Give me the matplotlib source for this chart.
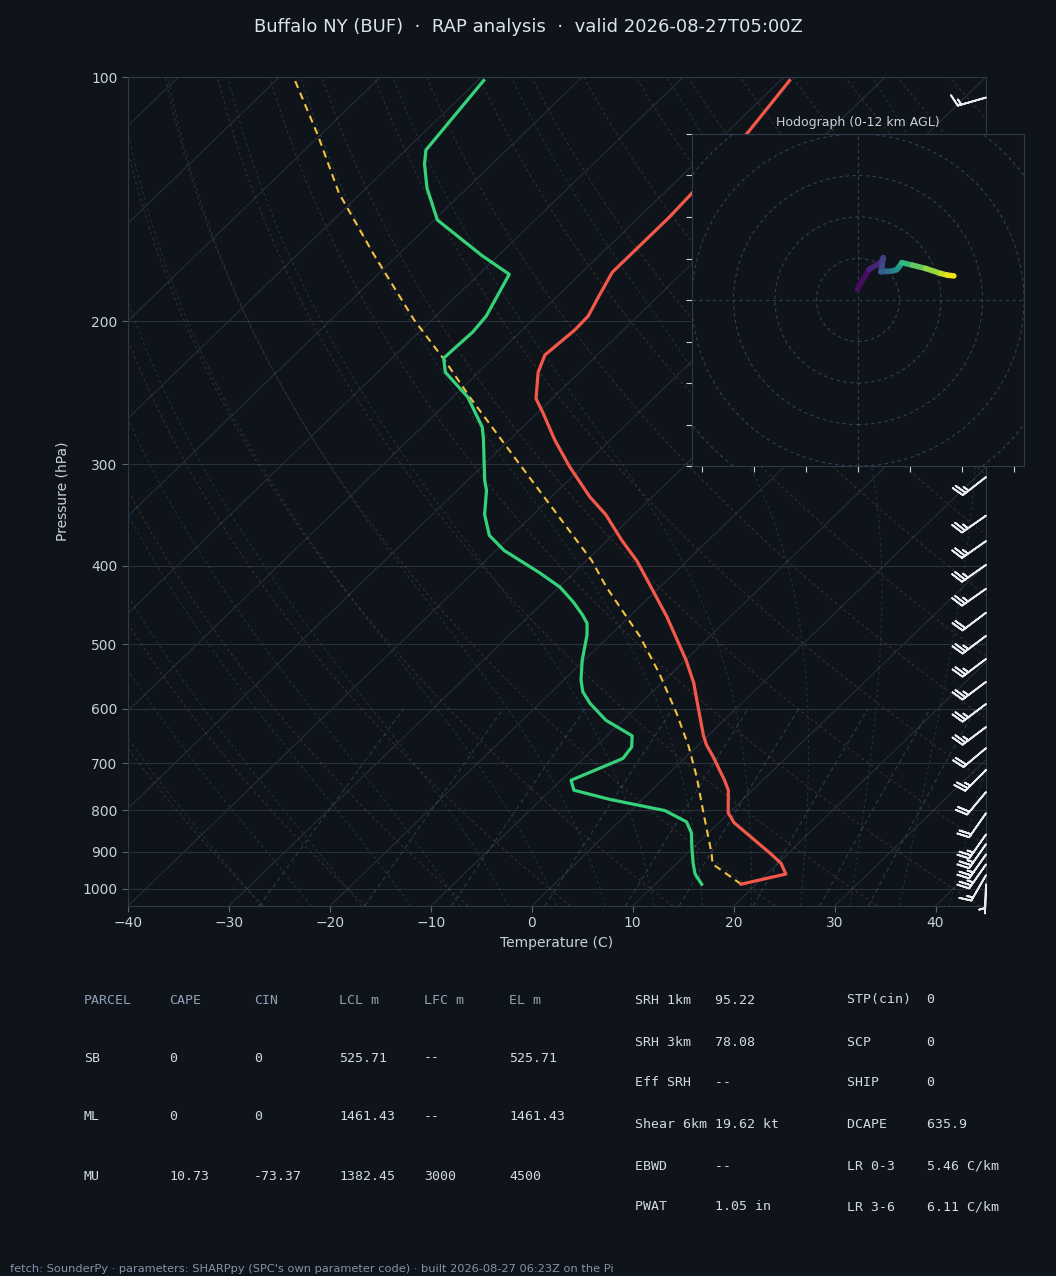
import numpy as np
import matplotlib.pyplot as plt
from matplotlib.collections import LineCollection
from matplotlib.colors import Normalize
from matplotlib.patches import Circle

# ===================== DATA =====================
station_title = "Buffalo NY (BUF)  \u00b7  RAP analysis  \u00b7  valid 2026-08-27T05:00Z"

# temperature profile (hPa, C)
temp_p = [987, 959, 930, 904, 854, 829, 806, 756, 735, 688, 665, 647, 585, 558, 523,
          462, 395, 372, 346, 329, 302, 280, 259, 249, 231, 220, 205, 197, 186, 174,
          161, 149, 140, 117, 101]
temp_c = [18.5, 21.9, 20.3, 18.2, 13.8, 11.5, 9.9, 7.6, 6.2, 2.7, 0.8, -0.5, -4.8, -6.8, -9.9,
          -16.3, -24.9, -28.6, -32.8, -36.2, -41.3, -45.5, -49.5, -51.6, -54.1, -55.2, -54.8,
          -54.9, -55.9, -57.0, -57.0, -57.0, -57.2, -57.9, -59.1]

# dewpoint profile (hPa, C)
dewp_p = [987, 959, 930, 888, 853, 827, 801, 776, 756, 735, 691, 669, 648, 620, 591, 572,
          553, 523, 487, 471, 460, 443, 425, 408, 383, 367, 346, 323, 314, 279, 270, 248,
          231, 222, 206, 197, 175, 166, 150, 137, 128, 123, 101]
dewp_c = [14.6, 12.9, 11.6, 9.8, 8.3, 6.7, 3.4, -3.2, -7.7, -9.0, -6.1, -6.4, -7.5, -11.7,
          -15.0, -16.9, -18.3, -20.2, -22.3, -23.5, -24.8, -27.1, -29.9, -33.4, -39.2, -42.2,
          -44.8, -47.1, -48.3, -52.7, -54.0, -58.5, -63.3, -64.9, -64.7, -65.0, -67.0, -71.6,
          -79.7, -84.0, -86.7, -88.0, -89.4]

# surface parcel path
parcel_p = [987, 932, 904, 807, 728, 668, 608, 543, 489, 425, 394, 298, 248, 224, 199,
            165, 139, 118, 101]
parcel_c = [18.5, 13.6, 12.4, 7.5, 3.1, -0.8, -5.4, -11.2, -16.9, -25.3, -29.5, -46.9,
            -58.3, -64.4, -71.8, -82.6, -92.2, -100.2, -108.1]

# wind barbs (hPa, direction deg, speed kt)
barb_p = [106, 150, 200, 250, 311, 347, 373, 399, 427, 457, 488, 521, 556, 592, 632, 671,
          714, 760, 807, 857, 881, 907, 933, 962, 987]
barb_dir = [254, 232, 235, 235, 232, 235, 235, 235, 235, 233, 233, 233, 233, 233, 233, 230,
            225, 220, 215, 215, 215, 215, 215, 210, 182]
barb_spd = [15, 25, 25, 25, 25, 25, 25, 25, 25, 20, 25, 25, 25, 25, 25, 20,
            25, 20, 20, 25, 25, 25, 25, 15, 3]

# hodograph (kt) coloured by height (km AGL)
hodo_u = [-0.2, 2.7, 5.5, 6.1, 5.8, 5.5, 7.0, 8.3, 9.3, 9.9, 10.6, 13.1, 16.3, 19.9, 21.5, 23.1]
hodo_v = [2.6, 7.4, 9.0, 10.2, 8.2, 6.8, 6.9, 7.0, 7.3, 8.0, 9.0, 8.4, 7.6, 6.4, 6.0, 5.8]
hodo_h = [0.0, 0.8, 1.5, 2.0, 2.6, 3.0, 3.8, 4.8, 5.6, 6.2, 7.4, 8.6, 9.5, 10.6, 11.3, 12.0]

parcel_cols = ["PARCEL", "CAPE", "CIN", "LCL m", "LFC m", "EL m"]
parcel_rows = [
    ["SB", "0", "0", "525.71", "--", "525.71"],
    ["ML", "0", "0", "1461.43", "--", "1461.43"],
    ["MU", "10.73", "-73.37", "1382.45", "3000", "4500"],
]
kin_labels = ["SRH 1km", "SRH 3km", "Eff SRH", "Shear 6km", "EBWD", "PWAT"]
kin_values = ["95.22", "78.08", "--", "19.62 kt", "--", "1.05 in"]
idx_labels = ["STP(cin)", "SCP", "SHIP", "DCAPE", "LR 0-3", "LR 3-6"]
idx_values = ["0", "0", "0", "635.9", "5.46 C/km", "6.11 C/km"]

footer = ("fetch: SounderPy \u00b7 parameters: SHARPpy (SPC's own parameter code) \u00b7 "
          "built 2026-08-27 06:23Z on the Pi")

# ===================== STYLE =====================
BG = "#0f141b"
SPINE = "#2d3947"
TXT = "#c9d1d9"
P_BOT, P_TOP = 1050.0, 100.0
X_MIN, X_MAX = -40, 45


def skew_x(t, p):
    # 45 degree skew done in axes space, like a SkewT
    p = np.asarray(p, dtype=float)
    return np.asarray(t, dtype=float) + (X_MAX - X_MIN) * np.log(P_BOT / p) / np.log(P_BOT / P_TOP)


fig = plt.figure(figsize=(10.56, 12.76), dpi=100, facecolor=BG)
ax = fig.add_axes([128 / 1056, 1 - 906 / 1276, 858 / 1056, 829 / 1276])
ax.set_facecolor(BG)
ax.set_yscale("log")
ax.set_ylim(P_BOT, P_TOP)
ax.set_xlim(X_MIN, X_MAX)
p_ticks = [100, 200, 300, 400, 500, 600, 700, 800, 900, 1000]
ax.set_yticks(p_ticks, labels=[str(p) for p in p_ticks])
ax.minorticks_off()
ax.set_xticks(range(-40, 41, 10))
for s in ax.spines.values():
    s.set_color(SPINE)
ax.tick_params(colors=TXT, labelsize=10, length=4)
ax.tick_params(axis="both", which="both", color="#5a6675")
ax.set_xlabel("Temperature (C)", color=TXT, fontsize=10)
ax.set_ylabel("Pressure (hPa)", color=TXT, fontsize=10, labelpad=9)

# pressure grid
for p in p_ticks:
    ax.axhline(p, color="#27313d", lw=0.8, zorder=1)

pp = np.geomspace(P_BOT, P_TOP, 120)

# isotherms
for t0 in range(-130, 50, 10):
    ax.plot(skew_x(np.full_like(pp, t0), pp), pp, color="#252e3a", lw=0.8, zorder=1)

# dry adiabats
for th in np.arange(-30, 211, 10):
    t = (th + 273.15) * (pp / 1000.0) ** 0.2857 - 273.15
    ax.plot(skew_x(t, pp), pp, color="#b8843e", alpha=0.26, lw=0.7, ls=(0, (3, 3)), zorder=1)


# moist adiabats
def moist_path(t0c, pres):
    Rd, cp, Lv, eps = 287.04, 1005.7, 2.501e6, 0.622
    out = np.empty_like(pres)
    T = t0c + 273.15
    out[0] = T
    for i in range(1, len(pres)):
        p0 = pres[i - 1]
        tc = T - 273.15
        es = 6.112 * np.exp(17.67 * tc / (tc + 243.5))
        rs = eps * es / (p0 - es)
        dtdp = (Rd * T + Lv * rs) / (cp + Lv * Lv * rs * eps / (Rd * T * T)) / p0
        T = T + dtdp * (pres[i] - p0)
        out[i] = T
    return out - 273.15


p_up = np.linspace(1000, 100, 400)
p_dn = np.linspace(1000, 1050, 20)
for t0 in np.arange(-30, 45, 5):
    up = moist_path(t0, p_up)
    dn = moist_path(t0, p_dn)
    pm = np.concatenate([p_dn[::-1], p_up[1:]])
    tm = np.concatenate([dn[::-1], up[1:]])
    ax.plot(skew_x(tm, pm), pm, color="#4f8ea3", alpha=0.26, lw=0.7, ls=(0, (3, 3)), zorder=1)

# mixing ratio lines
pw = np.linspace(1050, 600, 30)
for w in [0.0004, 0.001, 0.002, 0.004, 0.007, 0.01, 0.016, 0.024, 0.032]:
    e = pw * w / (0.622 + w)
    ln = np.log(e / 6.112)
    td = 243.5 * ln / (17.67 - ln)
    ax.plot(skew_x(td, pw), pw, color="#4f8ea3", alpha=0.33, lw=0.8, ls=(0, (4, 3)), zorder=1)

# profiles
ax.plot(skew_x(temp_c, temp_p), temp_p, color="#f4584a", lw=2.3, zorder=5)
ax.plot(skew_x(dewp_c, dewp_p), dewp_p, color="#35d27a", lw=2.3, zorder=5)
ax.plot(skew_x(parcel_c, parcel_p), parcel_p, color="#f2c23e", lw=1.5, ls=(0, (3.5, 2.5)), zorder=4)

# wind barbs at the right edge
bd = np.radians(barb_dir)
bu = -np.asarray(barb_spd) * np.sin(bd)
bv = -np.asarray(barb_spd) * np.cos(bd)
ax.barbs(np.full(len(barb_p), X_MAX), barb_p, bu, bv, color="#e8ecf0", length=6.5,
         linewidth=1.3, clip_on=False, zorder=6)

# ===================== HODOGRAPH =====================
hx = fig.add_axes([692 / 1056, 1 - 466 / 1276, 332 / 1056, 332 / 1276])
hx.set_facecolor(BG)
hx.set_xlim(-40, 40)
hx.set_ylim(-40, 40)
for r in (10, 20, 30, 40, 50):
    hx.add_patch(Circle((0, 0), r, fill=False, ls=(0, (3, 3)), color="#34404f", lw=0.8))
hx.axhline(0, color="#34404f", lw=0.8, ls=(0, (3, 3)))
hx.axvline(0, color="#34404f", lw=0.8, ls=(0, (3, 3)))
pts = np.column_stack([hodo_u, hodo_v]).reshape(-1, 1, 2)
segs = np.concatenate([pts[:-1], pts[1:]], axis=1)
lc = LineCollection(segs, cmap="viridis", norm=Normalize(0, 12), linewidth=4,
                    capstyle="round")
lc.set_array(0.5 * (np.asarray(hodo_h[:-1]) + np.asarray(hodo_h[1:])))
hx.add_collection(lc)
hx.set_xticks(np.arange(-37.5, 38, 12.5))
hx.set_yticks(np.arange(-40, 41, 10))
hx.tick_params(labelbottom=False, labelleft=False, color="#c9d1d9", length=4)
for s in hx.spines.values():
    s.set_color(SPINE)
hx.set_title("Hodograph (0-12 km AGL)", color=TXT, fontsize=9, pad=6)

# ===================== TEXT =====================
fig.text(0.5, 1 - 27 / 1276, station_title, ha="center", va="center", fontsize=13,
         color="#dde3ea")

mono = "DejaVu Sans Mono"
col_x = [84, 169, 254, 339, 424, 509]
row_y = [1000, 1058, 1117, 1176]
for cx, name in zip(col_x, parcel_cols):
    fig.text(cx / 1056, 1 - row_y[0] / 1276, name, family=mono, fontsize=9.5,
             color="#8fa1b5", va="center")
for ry, row in zip(row_y[1:], parcel_rows):
    for cx, val in zip(col_x, row):
        fig.text(cx / 1056, 1 - ry / 1276, val, family=mono, fontsize=9.5,
                 color="#d4dae1", va="center")

kin_y = [1000, 1042, 1083, 1124, 1166, 1207]
for ry, lab, val in zip(kin_y, kin_labels, kin_values):
    fig.text(635 / 1056, 1 - ry / 1276, f"{lab:<10}{val}", family=mono, fontsize=9.5,
             color="#d4dae1", va="center")
for ry, lab, val in zip(kin_y, idx_labels, idx_values):
    fig.text(847 / 1056, 1 - ry / 1276, f"{lab:<10}{val}", family=mono, fontsize=9.5,
             color="#d4dae1", va="center")

fig.text(10 / 1056, 1 - 1269 / 1276, footer, fontsize=8.2, color="#8393a7", va="center")

fig.savefig("out.png", dpi=100, facecolor=BG)
